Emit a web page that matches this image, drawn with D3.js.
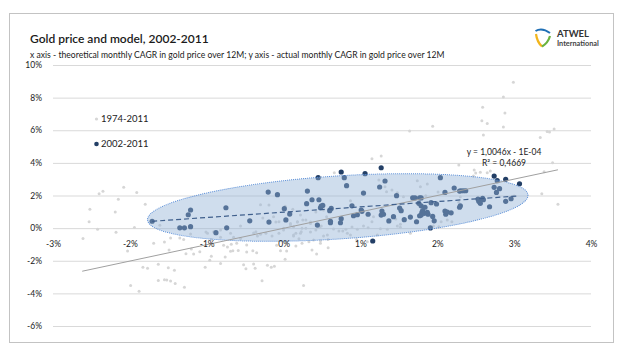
<!DOCTYPE html>
<html><head><meta charset="utf-8">
<script src="https://cdn.jsdelivr.net/npm/d3@7"></script>
<style>
body{margin:0;background:#fff}
svg{display:block}
text{font-family:Lato,"Open Sans",sans-serif}
</style>
</head><body>
<svg id="c" width="624" height="356"></svg>
<script>
// ---------- data ----------
const titleText = "Gold price and model, 2002-2011";
const subtitleText = "x axis - theoretical monthly CAGR in gold price over 12M; y axis - actual monthly CAGR in gold price over 12M";
const xTicks = [-3,-2,-1,0,1,2,3,4];
const yTicks = [-6,-4,-2,0,2,4,6,8,10];
const seriesNames = ["1974-2011","2002-2011"];
const equationLines = ["y = 1,0046x - 1E-04","R\u00B2 = 0,4669"];
// full-period linear trend (percent units)
const trendSlope = 1.0046, trendIntercept = -0.01, trendRange = [-2.62, 3.57];
// 2002-2011 dashed trend
const recentSlope = 0.326, recentIntercept = 0.977, recentRange = [-1.71, 3.04];
// highlighted ellipse: major axis endpoints in data units
const ellipseEnds = [[-1.77,0.50],[3.18,2.03]];

// 1974-2011 monthly points [x%, y%]
const allPoints = [
[-2.40,2.11],[-2.35,2.26],[-2.52,1.15],[-2.53,0.39],[-2.42,-0.07],[-2.61,-0.63],[-2.15,1.77],[-2.08,2.50],[-1.91,2.19],[-2.19,0.99],
[-2.18,-0.26],[-1.80,1.46],[-1.94,0.04],[-2.03,-1.40],[-1.69,-0.93],[-1.55,-0.85],[-1.49,-1.34],[-1.83,-2.40],[-1.77,-2.46],[-1.63,-2.22],
[-1.50,-2.43],[-1.42,-2.58],[-1.63,-3.21],[-1.55,-3.16],[-1.52,-3.18],[-1.47,-3.24],[-1.41,-3.40],[-1.29,-3.63],[-1.99,-3.51],[-1.88,-3.87],
[-1.61,0.18],[-1.35,-0.61],[-1.30,-0.69],[-1.20,-1.28],[-1.17,-1.59],[-1.27,-1.57],[-1.09,-1.45],[-1.02,-2.40],[-0.96,-1.97],[-0.94,-1.73],
[-0.82,-2.17],[-0.76,-1.77],[-0.69,-1.42],[-0.66,-1.39],[-0.59,-1.37],[-0.52,-2.24],[-0.49,-2.49],[-0.37,-2.46],[-0.39,-2.20],[-0.48,-1.47],
[-0.35,-1.51],[-0.28,-3.22],[-0.21,-2.28],[-0.16,-2.40],[-0.12,-2.34],[0.02,-1.91],[0.26,-3.52],[-0.30,1.43],[-0.19,1.42],[0.04,-0.82],
[0.04,-1.40],[-0.04,-1.39],[-0.94,-0.69],[-0.78,-1.05],[-0.73,-1.16],[-0.68,-0.99],[-0.56,-0.63],[-0.61,-0.93],[-0.48,-1.04],[-0.39,-0.30],
[-0.30,-0.38],[-0.23,-0.32],[-0.15,-0.48],[-0.09,-1.05],[-0.06,-0.32],[0.00,-0.01],[0.37,-1.34],[0.43,-1.59],[-0.36,-0.22],[-0.34,-0.48],
[-0.40,-1.39],[0.16,-1.10],[0.24,-0.93],[0.33,-0.83],[0.39,-0.73],[0.48,-0.77],[0.18,0.37],[0.25,0.50],[0.29,-0.01],[0.35,-0.24],
[0.23,-0.22],[0.16,-0.32],[0.20,-0.65],[0.13,-0.48],[0.12,1.15],[0.02,1.34],
[1.15,4.26],[1.27,4.42],[0.66,3.40],[0.52,1.11],[0.56,0.70],[0.49,0.13],[0.57,-0.42],[0.52,-0.48],[0.58,-0.69],[0.48,-0.93],
[0.58,-1.20],[0.65,-0.06],[0.72,-0.18],[0.77,-0.18],[0.81,-0.07],[0.83,-0.32],[0.89,0.07],[0.96,-0.07],[1.04,0.13],[1.10,0.02],
[1.17,0.70],[1.26,-0.04],[1.35,-0.07],[1.46,0.56],[1.48,0.13],[1.52,0.05],[1.24,2.95],[1.32,2.54],[1.41,2.34],[1.56,1.93],
[1.74,2.91],[1.85,1.99],[1.95,0.13],[2.02,0.09],[2.05,0.39],[0.95,-0.69],[0.87,-0.42],[1.09,-0.83],[1.15,0.39],[1.22,-0.42],
[2.13,0.50],[1.65,-0.32],[1.52,0.23],[2.19,0.39],
[2.99,8.94],[2.86,8.04],[2.59,7.41],[2.88,7.06],[2.58,6.58],[2.65,6.41],[2.86,6.20],[2.60,5.71],[3.34,5.55],[3.43,5.93],
[3.46,5.89],[3.52,6.08],[2.28,3.87],[2.48,3.56],[2.50,3.38],[2.65,3.40],[2.69,3.50],[3.50,4.01],[3.39,3.46],[3.36,2.10],
[3.57,1.47],[1.94,6.24],[1.64,5.95],[0.87,1.68],[1.34,2.23],[1.48,2.17],[1.87,2.70],[1.78,2.54],[2.01,2.21],[2.47,3.19],
[2.56,3.42],[2.28,1.58],[2.30,1.93],[3.00,1.97],
[0.22,0.80],[0.42,0.99],[0.35,0.37],[0.09,0.19],[-0.10,0.37],[-0.27,0.62],[-0.56,0.13],[-0.82,-0.12],[-1.01,-0.24],[-1.21,-0.36],
[-1.47,-0.61],[-0.99,-0.32],[-0.91,-0.22],[-0.69,-0.32],[-0.65,-0.56],[-0.82,-0.56],[0.09,0.29],[0.13,0.09],[0.18,0.39],[0.24,-0.01],
[0.29,0.50],[0.35,0.29],[0.42,-0.12],[0.47,0.09],[-0.13,0.70],[-0.06,0.39],[0.00,-0.12],[0.13,-0.42],[0.22,-0.32]
];

// 2002-2011 monthly points [x%, y%]
const recentPoints = [
[-1.71,0.42],[-1.35,0.02],[-1.29,0.02],[-1.21,0.09],[-1.24,0.82],[-1.21,1.11],[-0.88,-0.28],[-0.75,1.25],[-0.74,0.02],[-0.44,0.45],
[-0.20,2.21],[-0.19,0.37],[-0.08,2.05],[0.01,1.19],[0.03,0.50],[0.08,0.86],[0.31,2.27],[0.30,1.50],[0.37,1.74],[0.46,1.74],
[0.44,0.19],[0.48,1.25],[0.49,1.35],[0.51,1.39],[0.45,3.09],[0.60,1.07],[0.61,0.42],[0.61,0.33],[0.75,0.58],[0.74,0.33],
[0.82,2.60],[0.89,1.37],[0.91,0.76],[0.96,0.82],[1.01,1.11],[1.02,1.03],[1.04,2.15],[1.10,0.85],[1.25,2.52],[1.32,2.89],
[1.28,1.05],[1.30,0.85],[1.37,0.44],[1.43,0.70],[1.47,1.99],[1.51,1.23],[1.53,1.07],[1.57,0.52],[1.65,0.68],[1.68,1.86],
[1.71,1.86],[1.77,1.86],[1.79,1.85],[1.73,0.39],[1.76,1.52],[1.79,1.37],[1.80,0.97],[1.81,1.07],[1.83,0.91],[1.77,0.76],
[1.79,0.80],[1.87,0.97],[1.88,0.85],[1.84,1.28],[1.91,0.01],[1.92,1.56],[1.94,0.72],[1.96,0.45],[1.99,1.48],[2.10,2.19],
[2.10,1.05],[2.11,0.85],[2.13,0.99],[2.18,0.94],[2.22,2.46],[2.29,2.27],[2.31,2.29],[2.34,2.29],[2.37,2.29],[2.30,1.37],
[2.29,1.28],[2.53,1.78],[2.54,1.64],[2.56,1.52],[2.59,1.83],[2.60,1.74],[2.68,1.31],[2.74,2.50],[2.77,2.19],[2.81,2.42],
[2.78,2.91],[2.89,1.64],[2.96,1.80],[3.07,2.72],[1.16,-0.79],[0.75,3.44],[0.79,3.09],[1.06,3.34],[1.27,3.70],[2.04,3.09],
[0.62,1.21],[2.74,3.19],[2.89,2.99],[1.27,0.80]
];

// ---------- drawing ----------
const svg = d3.select("#c");
svg.append("rect").attr("width",624).attr("height",356).attr("fill","#fff");
svg.append("rect").attr("x",9.5).attr("y",13.5).attr("width",604).attr("height",329)
  .attr("fill","none").attr("stroke","#c3c3c3").attr("stroke-width",1);

const x = d3.scaleLinear().domain([-3,4]).range([53,591]);
const y = d3.scaleLinear().domain([-6,10]).range([326,65]);

// y axis + gridlines
const yAxis = svg.append("g").attr("transform","translate(53,0)")
  .call(d3.axisLeft(y).tickValues(yTicks).tickSize(-(591-53)).tickPadding(11).tickFormat(d=>d+"%"));
yAxis.select(".domain").remove();
yAxis.selectAll("line").attr("stroke","#d9d9d9");
yAxis.selectAll("text").attr("fill","#222").attr("font-size",8.5).attr("font-family","Lato");

// points
svg.append("g").selectAll("circle").data(allPoints).join("circle")
  .attr("cx",d=>x(d[0])).attr("cy",d=>y(d[1])).attr("r",1.5).attr("fill","#d6d6d6");
svg.append("g").selectAll("circle").data(recentPoints).join("circle")
  .attr("cx",d=>x(d[0])).attr("cy",d=>y(d[1])).attr("r",2.6).attr("fill","#233f66");

// ellipse
const p1=[x(ellipseEnds[0][0]),y(ellipseEnds[0][1])], p2=[x(ellipseEnds[1][0]),y(ellipseEnds[1][1])];
const cx=(p1[0]+p2[0])/2, cy=(p1[1]+p2[1])/2;
const rx=Math.hypot(p2[0]-p1[0],p2[1]-p1[1])/2;
const ang=Math.atan2(p2[1]-p1[1],p2[0]-p1[0])*180/Math.PI;
svg.append("ellipse").attr("cx",0).attr("cy",0).attr("rx",rx).attr("ry",31.5)
  .attr("transform",`translate(${cx},${cy}) rotate(${ang})`)
  .attr("fill","rgba(149,179,215,0.45)").attr("stroke","#5b8fd8").attr("stroke-width",1)
  .attr("stroke-dasharray","1,1");

// trend lines
svg.append("line")
  .attr("x1",x(trendRange[0])).attr("y1",y(trendSlope*trendRange[0]+trendIntercept))
  .attr("x2",x(trendRange[1])).attr("y2",y(trendSlope*trendRange[1]+trendIntercept))
  .attr("stroke","#a0a0a0").attr("stroke-width",1);
svg.append("line")
  .attr("x1",x(recentRange[0])).attr("y1",y(recentSlope*recentRange[0]+recentIntercept))
  .attr("x2",x(recentRange[1])).attr("y2",y(recentSlope*recentRange[1]+recentIntercept))
  .attr("stroke","#3f5f8c").attr("stroke-width",1.2).attr("stroke-dasharray","5,3");

// x axis labels
const xAxis = svg.append("g").attr("transform",`translate(0,${y(0)})`)
  .call(d3.axisBottom(x).tickValues(xTicks).tickSize(0).tickPadding(13).tickFormat(d=>d+"%"));
xAxis.select(".domain").remove();
xAxis.selectAll("text").attr("fill","#222").attr("font-size",8.5).attr("font-family","Lato");

// equation
svg.append("g").selectAll("text").data(equationLines).join("text")
  .attr("x",504).attr("y",(d,i)=>155+i*10.5).attr("text-anchor","middle")
  .attr("font-size",8.5).attr("fill","#222").text(d=>d);

// legend
const leg = svg.append("g").attr("font-size",9.5);
const legColors=["#d6d6d6","#233f66"], legR=[1.6,2.3];
seriesNames.forEach((n,i)=>{
  const yy = 119 + i*25;
  leg.append("circle").attr("cx",96.5).attr("cy",yy).attr("r",legR[i]).attr("fill",legColors[i]);
  leg.append("text").attr("x",101).attr("y",yy+3.3).attr("fill","#222").text(n);
});

// titles
svg.append("text").attr("x",30).attr("y",43).attr("font-size",12).attr("font-weight",600)
  .attr("fill","#1a1a1a").text(titleText);
svg.append("text").attr("x",30).attr("y",58).attr("font-size",8.6)
  .attr("fill","#1a1a1a").text(subtitleText);

// logo
const logo = svg.append("g");
logo.append("path").attr("d","M535.5,31 Q542,27 550,33").attr("fill","none").attr("stroke","#1f6fb5").attr("stroke-width",2);
logo.append("path").attr("d","M536,34 Q537,42 542,46.5").attr("fill","none").attr("stroke","#f2b51c").attr("stroke-width",2.2);
logo.append("path").attr("d","M542,46.5 Q548,43 550,36").attr("fill","none").attr("stroke","#6bb33f").attr("stroke-width",2.2);
logo.append("text").attr("x",557).attr("y",37).attr("font-size",9.5).attr("font-weight",700).attr("fill","#333").text("ATWEL");
logo.append("text").attr("x",557).attr("y",45.5).attr("font-size",7.3).attr("font-weight",700).attr("fill","#444").text("International");
</script>
</body></html>
